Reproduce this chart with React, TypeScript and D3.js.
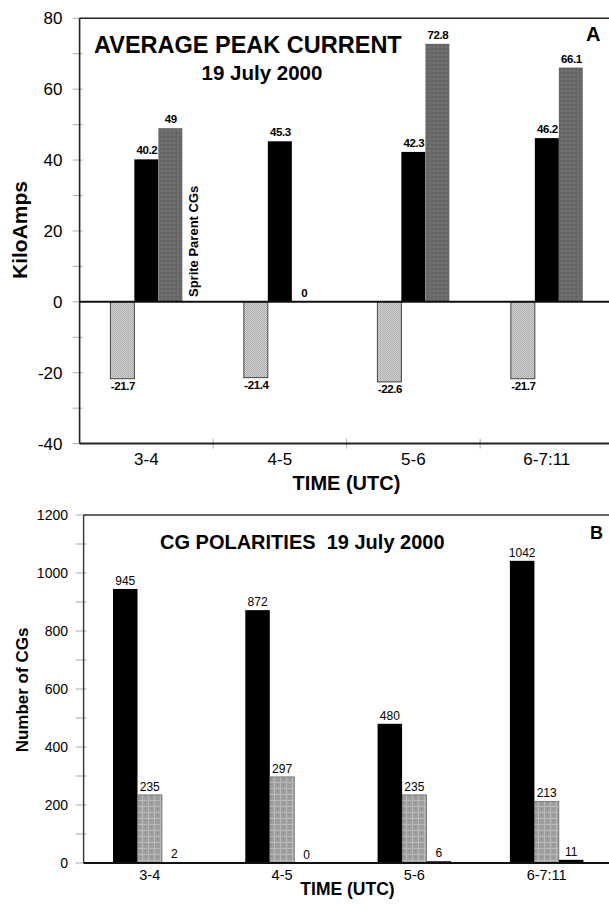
import React from "react";
import * as d3 from "d3";

// hourly bins (UTC)
const hours = ["3-4", "4-5", "5-6", "6-7:11"];

// panel A: average peak current, kA
const negPeak = [-21.7, -21.4, -22.6, -21.7];
const posPeak = [40.2, 45.3, 42.3, 46.2];
const spritePeak = [49, 0, 72.8, 66.1];
const peakTicks = [-40, -20, 0, 20, 40, 60, 80];

// panel B: number of CGs
const negCount = [945, 872, 480, 1042];
const posCount = [235, 297, 235, 213];
const spriteCount = [2, 0, 6, 11];
const countTicks = [0, 200, 400, 600, 800, 1000, 1200];

const W = 609;
const H = 905;
const FONT = "'Liberation Sans', Arial, sans-serif";

const Patterns = () => (
  <defs>
    <pattern id="darkStipple" width="4" height="4" patternUnits="userSpaceOnUse">
      <rect width="4" height="4" fill="#6a6a6a" />
      <rect x="0" y="0" width="1" height="1" fill="#5a5a5a" />
      <rect x="2" y="2" width="1" height="1" fill="#7a7a7a" />
      <rect x="3" y="1" width="1" height="1" fill="#606060" />
      <rect x="1" y="3" width="1" height="1" fill="#767676" />
    </pattern>
    <pattern id="lightCheck" width="2" height="2" patternUnits="userSpaceOnUse">
      <rect width="2" height="2" fill="#d4d4d4" />
      <rect x="0" y="0" width="1" height="1" fill="#a6a6a6" />
      <rect x="1" y="1" width="1" height="1" fill="#b0b0b0" />
    </pattern>
    <pattern id="plaid" width="6" height="6" patternUnits="userSpaceOnUse">
      <rect width="6" height="6" fill="#9e9e9e" />
      <rect x="0" y="2" width="6" height="1" fill="#bababa" />
      <rect x="4" y="0" width="1" height="6" fill="#bababa" />
      <rect x="1" y="4" width="1" height="1" fill="#888" />
    </pattern>
  </defs>
);

const PanelA = () => {
  const left = 79.6;
  const top = 18.3;
  const bottom = 443.6;
  const x = d3.scaleBand().domain(hours).range([left, left + 4 * 133.5]).padding(0);
  const y = d3.scaleLinear().domain([-40, 80]).range([bottom, top]);
  const sub = d3.scaleBand().domain(["neg", "pos", "sprite"]).range([-36, 36]);
  const minor = d3.range(-40, 81, 10);
  const cx = (h: string) => (x(h) as number) + x.bandwidth() / 2;

  const series = [
    { key: "neg", values: negPeak, fill: "url(#lightCheck)", stroke: "#333" },
    { key: "pos", values: posPeak, fill: "#000", stroke: "none" },
    { key: "sprite", values: spritePeak, fill: "url(#darkStipple)", stroke: "none" },
  ];

  return (
    <g fontFamily={FONT}>
      {minor.map((t) => (
        <line key={t} x1={left - 7} x2={left + 3} y1={y(t)} y2={y(t)} stroke="#aaa" strokeWidth={1} />
      ))}
      {x.domain().slice(1).map((h) => (
        <line key={h} x1={x(h)} x2={x(h)} y1={bottom - 5} y2={bottom + 5} stroke="#aaa" />
      ))}
      {series.map((s) =>
        s.values.map((v, i) => {
          const bx = cx(hours[i]) + (sub(s.key) as number);
          const y0 = y(Math.max(0, v));
          const h = Math.abs(y(v) - y(0));
          return (
            <g key={s.key + i}>
              {h > 0 && (
                <rect x={bx} y={y0} width={sub.bandwidth()} height={h} fill={s.fill} stroke={s.stroke} strokeWidth={0.9} />
              )}
              <text
                x={bx + sub.bandwidth() / 2 + 0.5}
                y={v < 0 ? y(v) + 11 : y(v) - 5}
                textAnchor="middle"
                fontSize={11.5}
                fontWeight={600}
                letterSpacing={-0.4}
              >
                {String(v)}
              </text>
            </g>
          );
        })
      )}
      <line x1={left} x2={W} y1={y(0)} y2={y(0)} stroke="#111" strokeWidth={2} />
      <line x1={left} x2={W} y1={top} y2={top} stroke="#222" strokeWidth={1.6} />
      <line x1={left} x2={W} y1={bottom} y2={bottom} stroke="#222" strokeWidth={2} />
      <line x1={left} x2={left} y1={top} y2={bottom} stroke="#222" strokeWidth={1.6} />
      {peakTicks.map((t) => (
        <text key={t} x={62.5} y={y(t)} dy="0.36em" textAnchor="end" fontSize={17}>
          {t}
        </text>
      ))}
      {hours.map((h) => (
        <text key={h} x={cx(h)} y={465} textAnchor="middle" fontSize={17}>
          {h}
        </text>
      ))}
      <text x={346.5} y={490} textAnchor="middle" fontSize={20} fontWeight="bold">
        TIME (UTC)
      </text>
      <text transform="translate(27,230) rotate(-90)" textAnchor="middle" fontSize={21} fontWeight="bold">
        KiloAmps
      </text>
      <text transform="translate(197.5,297) rotate(-90)" fontSize={13} fontWeight="bold">
        Sprite Parent CGs
      </text>
      <text x={94} y={53} fontSize={23.5} fontWeight="bold">
        AVERAGE PEAK CURRENT
      </text>
      <text x={262} y={80} textAnchor="middle" fontSize={20.5} fontWeight="bold">
        19 July 2000
      </text>
      <text x={586} y={41} fontSize={20} fontWeight="bold">
        A
      </text>
    </g>
  );
};

const PanelB = () => {
  const left = 83.6;
  const top = 515;
  const bottom = 863;
  const x = d3.scaleBand().domain(hours).range([left, left + 4 * 132.3]).padding(0);
  const y = d3.scaleLinear().domain([0, 1200]).range([bottom, top]);
  const sub = d3.scaleBand().domain(["neg", "pos", "sprite"]).range([-36.75, 36.75]);
  const minor = d3.range(0, 1201, 100);
  const cx = (h: string) => (x(h) as number) + x.bandwidth() / 2;

  const series = [
    { key: "neg", values: negCount, fill: "#000", stroke: "none" },
    { key: "pos", values: posCount, fill: "url(#plaid)", stroke: "#555" },
    { key: "sprite", values: spriteCount, fill: "#000", stroke: "none" },
  ];

  return (
    <g fontFamily={FONT}>
      {minor.map((t) => (
        <line key={t} x1={left - 8} x2={left + 3} y1={y(t)} y2={y(t)} stroke="#aaa" strokeWidth={1} />
      ))}
      {series.map((s) =>
        s.values.map((v, i) => {
          const bx = cx(hours[i]) + (sub(s.key) as number);
          const h = y(0) - y(v);
          return (
            <g key={s.key + i}>
              {h > 0 && (
                <rect x={bx} y={y(v)} width={sub.bandwidth()} height={h} fill={s.fill} stroke={s.stroke} strokeWidth={0.6} />
              )}
              <text x={bx + sub.bandwidth() / 2} y={y(v) - 4} textAnchor="middle" fontSize={12}>
                {v}
              </text>
            </g>
          );
        })
      )}
      <line x1={left} x2={W} y1={bottom} y2={bottom} stroke="#111" strokeWidth={2} />
      <line x1={left} x2={W} y1={top} y2={top} stroke="#333" strokeWidth={1.4} />
      <line x1={left} x2={left} y1={top} y2={bottom} stroke="#333" strokeWidth={1.4} />
      {countTicks.map((t) => (
        <text key={t} x={68} y={y(t)} dy="0.36em" textAnchor="end" fontSize={14}>
          {t}
        </text>
      ))}
      {hours.map((h) => (
        <text key={h} x={cx(h)} y={880} textAnchor="middle" fontSize={14.5}>
          {h}
        </text>
      ))}
      <text x={347.5} y={895} textAnchor="middle" fontSize={17.5} fontWeight="bold">
        TIME (UTC)
      </text>
      <text transform="translate(28,690) rotate(-90)" textAnchor="middle" fontSize={17} fontWeight="bold">
        Number of CGs
      </text>
      <text x={160} y={549} fontSize={20} fontWeight="bold" style={{ whiteSpace: "pre" }}>
        {"CG POLARITIES  19 July 2000"}
      </text>
      <text x={590} y={539} fontSize={18} fontWeight="bold">
        B
      </text>
    </g>
  );
};

export default function App() {
  return (
    <svg
      width={W}
      height={H}
      viewBox={`0 0 ${W} ${H}`}
      style={{ position: "absolute", left: 0, top: 0, background: "#fff" }}
    >
      <Patterns />
      <rect width={W} height={H} fill="#fff" />
      <PanelA />
      <PanelB />
    </svg>
  );
}
